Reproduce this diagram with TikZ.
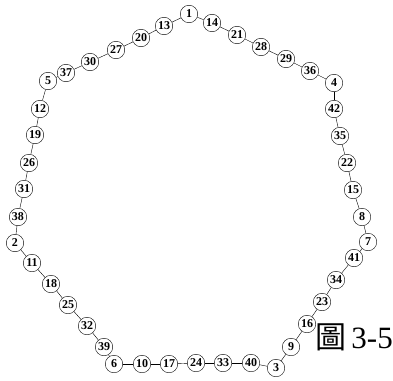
\documentclass[tikz,border=0pt]{standalone}
\usepackage{fontspec}
\setmainfont{Liberation Serif}
\newfontfamily\cjkfont{Noto Sans CJK TC}
\newfontfamily\capfont{Liberation Serif}
\usetikzlibrary{positioning}

\begin{document}
\begin{tikzpicture}[x=1pt, y=-1pt,
    vertex/.style={circle, draw, thin, fill=white, minimum size=17.5pt, inner sep=0pt,
        font=\bfseries\fontsize{12}{12}\selectfont}]
    \useasboundingbox (0,0) rectangle (393,380);
    % 1. Các đỉnh
    \foreach \v/\x/\y in {1/189/14, 14/212/23, 21/237/35, 28/261/47, 29/286/59,
        36/310/71, 4/334/83, 42/334/109, 35/340/136, 22/347/163, 15/353/190,
        8/362/217, 7/368/242, 41/354/258, 34/336/280, 23/322/302, 16/307/324,
        9/291/347, 3/276/368, 40/251/363, 33/223/363, 24/196/363, 17/169/364,
        10/142/364, 6/114/364, 39/104/347, 32/87/326, 25/68/305, 18/51/284,
        11/32/263, 2/15/243, 38/18/217, 31/24/189, 26/29/163, 19/35/135,
        12/40/109, 5/48/81, 37/66/73, 30/90/62, 27/116/50, 20/141/38, 13/164/26} {
        \node[vertex] (n\v) at (\x,\y) {\v};
    }
    
    % 2. Chu trình
    \foreach \v [remember=\v as \u (initially 13)] in {1,14,21,28,29,36,4,42,35,22,
        15,8,7,41,34,23,16,9,3,40,33,24,17,10,6,39,32,25,18,11,2,38,31,26,19,12,
        5,37,30,27,20,13} {
        \draw (n\u) -- (n\v);
    }
    
    % 3. Nhãn hình
    \node[font=\fontsize{31}{31}\selectfont] (caption) at (354,337) {{\cjkfont 圖}\,{\capfont 3-5}};
\end{tikzpicture}
\end{document}
